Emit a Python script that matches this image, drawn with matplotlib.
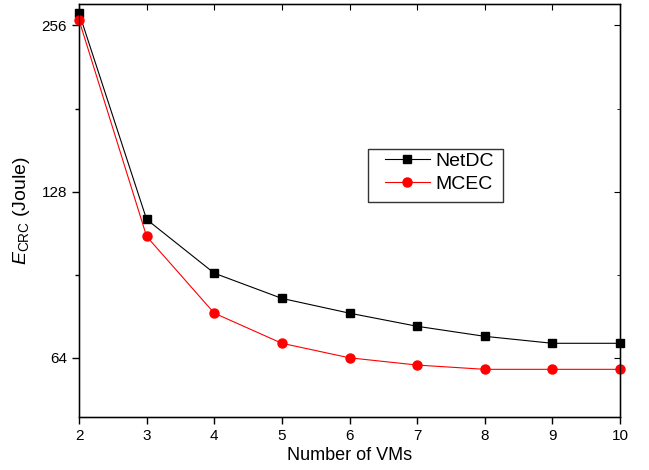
import matplotlib
matplotlib.use("Agg")
import matplotlib.pyplot as plt
from matplotlib.ticker import FixedLocator, NullFormatter, FixedFormatter
from matplotlib.patches import Rectangle
import numpy as np

plt.rcParams['font.family'] = ['Liberation Sans', 'DejaVu Sans']
plt.rcParams['mathtext.fontset'] = 'custom'
plt.rcParams['mathtext.rm'] = 'Liberation Sans'
plt.rcParams['mathtext.it'] = 'Liberation Sans:italic'

vms = [2, 3, 4, 5, 6, 7, 8, 9, 10]
netdc = [270, 114.0, 91.1, 82.0, 77.1, 73.0, 70.0, 68.0, 68.0]
mcec = [262, 106.2, 77.1, 68.0, 64.0, 62.1, 61.0, 61.0, 61.0]
yticks = [64, 128, 256]
ytick_labels = ["64", "128", "256"]

W, H = 649, 470
fig = plt.figure(figsize=(W/100, H/100), dpi=100)
ax = fig.add_axes([79/W, 1-417/H, (620-79)/W, (417-4)/H])

ax.plot(vms, netdc, color='black', lw=0.8, marker='s', ms=5.8, label='NetDC', clip_on=False, zorder=3)
ax.plot(vms, mcec, color='red', lw=0.8, marker='o', ms=6.5, label='MCEC', clip_on=False, zorder=3)

ax.set_yscale('log', base=2)
ax.set_ylim(50, 280)
ax.set_xlim(2, 10)
ax.yaxis.set_major_locator(FixedLocator(yticks))
ax.yaxis.set_major_formatter(FixedFormatter(ytick_labels))
minor = [t * np.sqrt(2) for t in yticks[:-1]]
ax.yaxis.set_minor_locator(FixedLocator(minor))
ax.yaxis.set_minor_formatter(NullFormatter())
ax.set_xticks(vms)

ax.tick_params(axis='both', which='major', direction='out', length=5, width=1, labelsize=11)
ax.tick_params(axis='y', which='minor', direction='out', length=3, width=1)

for s in ax.spines.values():
    s.set_linewidth(1)

# inward ticks on top and right
axt = ax.twiny()
axt.set_xlim(2, 10)
axt.set_xticks(vms)
axt.tick_params(axis='x', direction='in', length=4, labeltop=False)
axr = ax.twinx()
axr.set_yscale('log', base=2)
axr.set_ylim(50, 280)
axr.yaxis.set_major_locator(FixedLocator(yticks))
axr.yaxis.set_minor_locator(FixedLocator(minor))
axr.yaxis.set_major_formatter(NullFormatter())
axr.yaxis.set_minor_formatter(NullFormatter())
axr.tick_params(axis='y', which='major', direction='in', length=4)
axr.tick_params(axis='y', which='minor', direction='in', length=2.5)

ax.set_xlabel('Number of VMs', fontsize=13, labelpad=3)
ax.set_ylabel(r'$E_{\mathrm{CRC}}$ (Joule)', fontsize=14, labelpad=7)

handles, labels = ax.get_legend_handles_labels()
leg = fig.legend(handles, labels, loc='upper left',
                 bbox_to_anchor=(385/W, 1-152/H), bbox_transform=fig.transFigure,
                 fontsize=14, frameon=False, handlelength=2.3,
                 borderpad=0, labelspacing=0.3, handletextpad=0.3, borderaxespad=0)
fig.patches.append(Rectangle((368/W, 1-202/H), (503-368)/W, (202-149)/H,
                             transform=fig.transFigure, fill=False,
                             edgecolor='#333333', lw=1))

fig.savefig('out.png', dpi=100)
